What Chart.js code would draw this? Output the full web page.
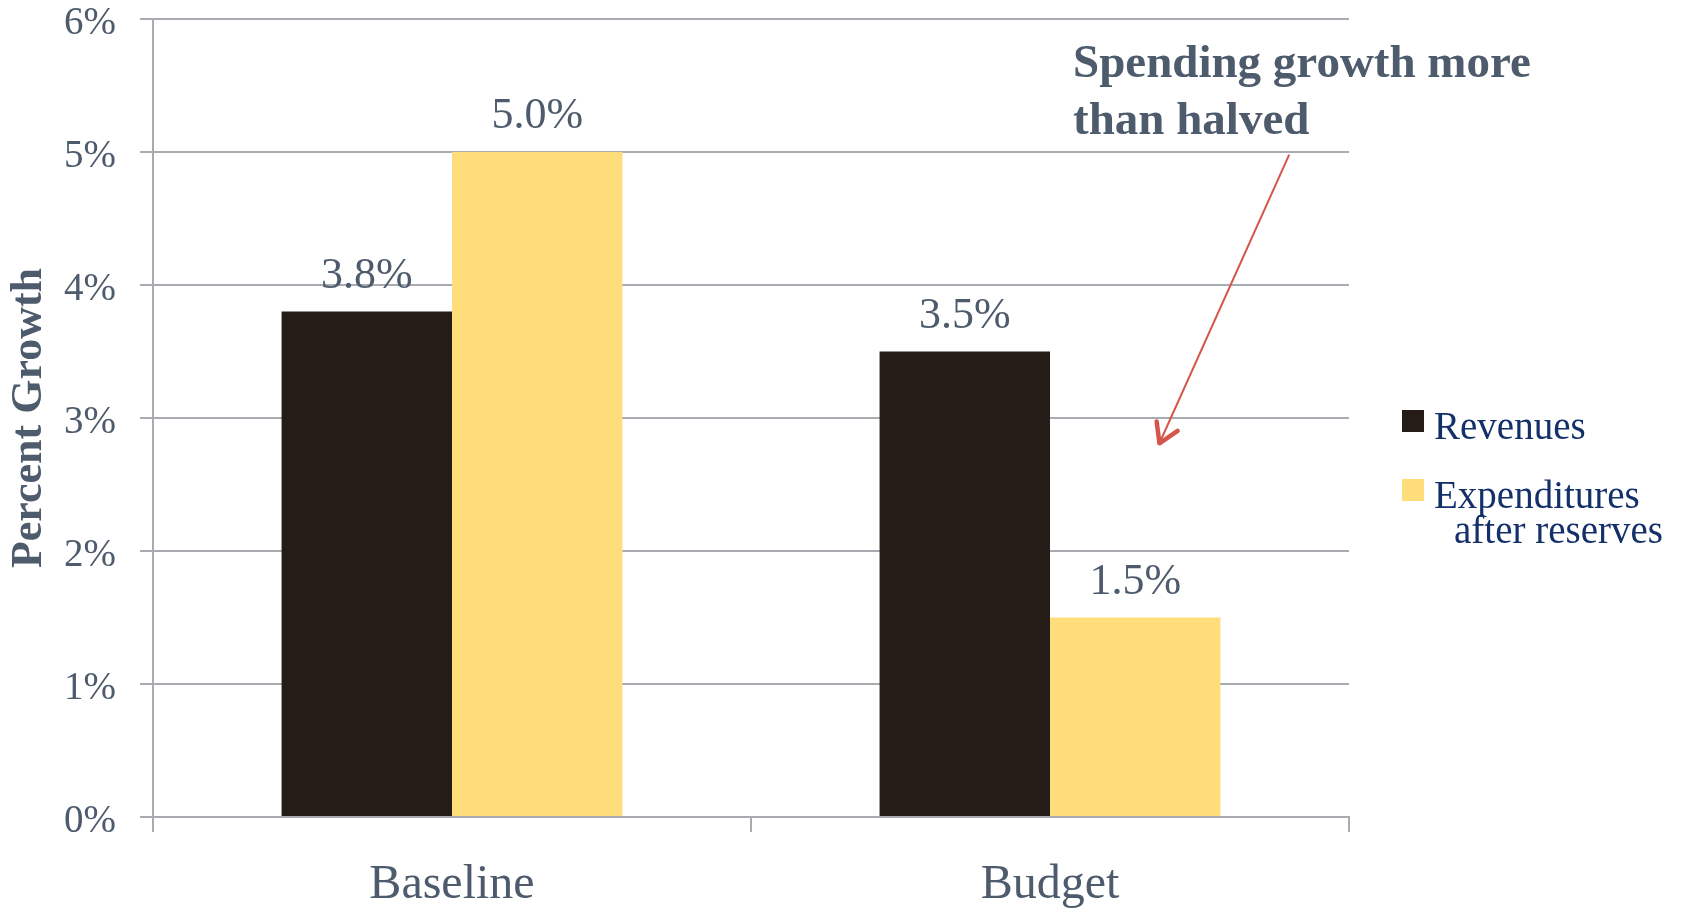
<!DOCTYPE html>
<html>
<head>
<meta charset="utf-8">
<script src="https://cdn.jsdelivr.net/npm/chart.js@4"></script>
<style>
  html, body { margin: 0; padding: 0; background: #ffffff; }
  #wrap { width: 1690px; height: 914px; }
</style>
</head>
<body>
<div id="wrap"><canvas id="growthChart"></canvas></div>
<script>
// データ
const categories = ["Baseline", "Budget"];
const revenues = [3.8, 3.5];
const expenditures = [5.0, 1.5];
const seriesLabels = ["Revenues", ["Expenditures", "after reserves"]];
const yTicks = [0, 1, 2, 3, 4, 5, 6];
const noteLines = ["Spending growth more", "than halved"];

const serif = "'Liberation Serif', 'Times New Roman', serif";
const slate = "#4d5b6c";
const navy = "#14306b";
const gridGray = "#a8acb1";
const barColors = ["#261c17", "#fedd7a"];

// 棒の上のラベル
const valueLabels = {
  id: "valueLabels",
  afterDatasetsDraw(chart) {
    const ctx = chart.ctx;
    ctx.save();
    ctx.font = "44px " + serif;
    ctx.fillStyle = slate;
    ctx.textAlign = "center";
    ctx.textBaseline = "alphabetic";
    chart.data.datasets.forEach((ds, i) => {
      chart.getDatasetMeta(i).data.forEach((bar, j) => {
        ctx.fillText(ds.data[j].toFixed(1) + "%", bar.x, bar.y - 24);
      });
    });
    ctx.restore();
  },
};

// 凡例（右側）
const sideLegend = {
  id: "sideLegend",
  afterDraw(chart) {
    const ctx = chart.ctx;
    ctx.save();
    ctx.font = "39px " + serif;
    ctx.textBaseline = "alphabetic";
    const rows = [410, 479];
    chart.data.datasets.forEach((ds, i) => {
      const top = rows[i];
      ctx.fillStyle = ds.backgroundColor;
      ctx.fillRect(1402, top, 22, 22);
      ctx.fillStyle = navy;
      const lines = Array.isArray(seriesLabels[i]) ? seriesLabels[i] : [seriesLabels[i]];
      lines.forEach((t, k) => {
        ctx.fillText(t, k === 0 ? 1434 : 1454, top + 29 + k * 35);
      });
    });
    ctx.restore();
  },
};

// 注記と矢印
const note = {
  id: "note",
  afterDraw(chart) {
    const ctx = chart.ctx;
    const x = chart.scales.x;
    const y = chart.scales.y;
    ctx.save();
    ctx.font = "bold 47px " + serif;
    ctx.fillStyle = slate;
    ctx.textBaseline = "alphabetic";
    noteLines.forEach((t, k) => ctx.fillText(t, 1073, 77 + k * 57));

    const x0 = x.getPixelForValue(1.4);
    const y0 = y.getPixelForValue(4.98);
    const x1 = x.getPixelForValue(1.183);
    const y1 = y.getPixelForValue(2.81);
    const ang = Math.atan2(y1 - y0, x1 - x0);
    ctx.strokeStyle = "#d4564b";
    ctx.lineWidth = 2;
    ctx.beginPath();
    ctx.moveTo(x0, y0);
    ctx.lineTo(x1, y1);
    ctx.stroke();
    ctx.lineWidth = 4.5;
    ctx.lineCap = "round";
    ctx.lineJoin = "round";
    const len = 22;
    ctx.beginPath();
    ctx.moveTo(x1 - len * Math.cos(ang - 0.55), y1 - len * Math.sin(ang - 0.55));
    ctx.lineTo(x1, y1);
    ctx.lineTo(x1 - len * Math.cos(ang + 0.55), y1 - len * Math.sin(ang + 0.55));
    ctx.stroke();
    ctx.restore();
  },
};

new Chart(document.getElementById("growthChart"), {
  type: "bar",
  data: {
    labels: categories,
    datasets: [
      { label: "Revenues", data: revenues, backgroundColor: barColors[0] },
      { label: "Expenditures after reserves", data: expenditures, backgroundColor: barColors[1] },
    ],
  },
  options: {
    responsive: true,
    maintainAspectRatio: false,
    animation: false,
    devicePixelRatio: 1,
    categoryPercentage: 0.57,
    barPercentage: 1.0,
    layout: { padding: { top: 19, right: 341, left: 0, bottom: 0 } },
    plugins: {
      legend: { display: false },
      tooltip: { enabled: false },
    },
    scales: {
      x: {
        afterFit(scale) { scale.height = 97; },
        grid: {
          display: true,
          offset: true,
          drawOnChartArea: false,
          color: gridGray,
          lineWidth: 2,
          tickLength: 15,
        },
        border: { display: true, color: gridGray, width: 2 },
        ticks: {
          color: slate,
          font: { family: serif, size: 48 },
          padding: 25,
        },
      },
      y: {
        min: 0,
        max: 6,
        afterFit(scale) {
          scale.width = 153;
          scale.paddingTop = 0;
          scale.paddingBottom = 0;
        },
        afterBuildTicks(scale) {
          scale.ticks = yTicks.map((v) => ({ value: v }));
        },
        grid: { color: gridGray, lineWidth: 2, tickLength: 13 },
        border: { display: true, color: gridGray, width: 2 },
        ticks: {
          color: slate,
          font: { family: serif, size: 39, lineHeight: 1.0 },
          padding: 24,
          labelOffset: 5,
          callback: (v) => v + "%",
        },
        title: {
          display: true,
          text: "Percent Growth",
          color: slate,
          font: { family: serif, size: 44, weight: "bold", lineHeight: 1.2 },
          padding: { top: 3, bottom: 0 },
        },
      },
    },
  },
  plugins: [valueLabels, sideLegend, note],
});
</script>
</body>
</html>
